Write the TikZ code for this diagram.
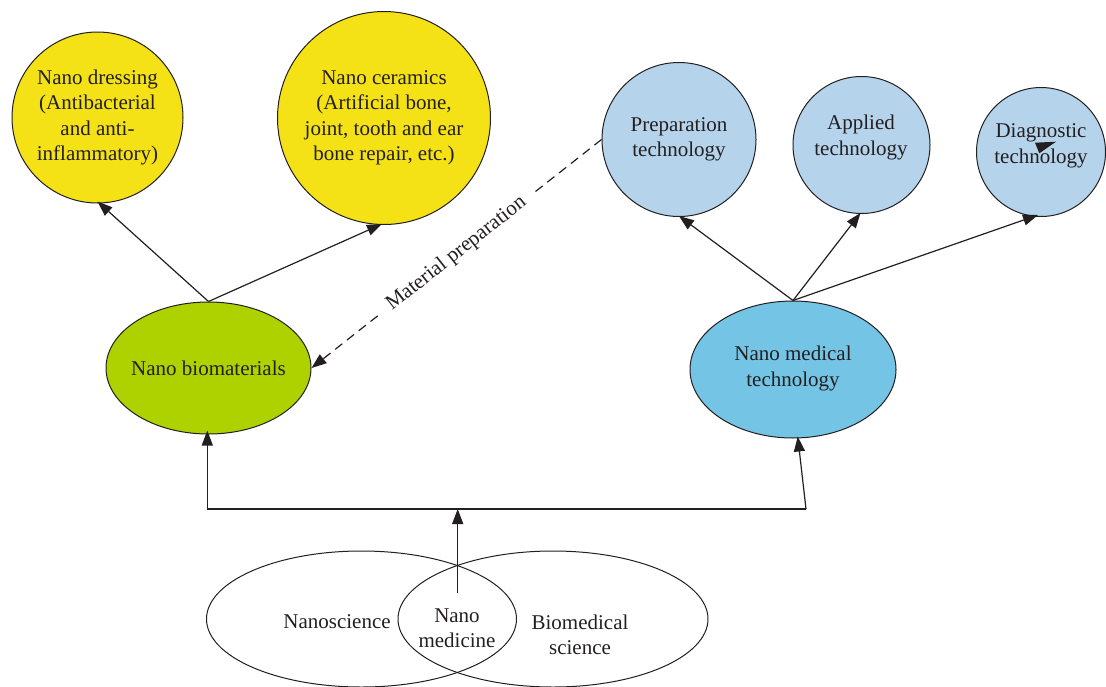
\documentclass[tikz,border=0pt]{standalone}
\usepackage{fontspec}
\setmainfont{Liberation Serif}
\usetikzlibrary{arrows.meta,shapes.geometric}
\definecolor{yel}{RGB}{244,226,22}
\definecolor{paleblue}{RGB}{181,212,236}
\definecolor{skyblue}{RGB}{116,196,230}
\definecolor{lime}{RGB}{174,210,0}
\definecolor{ink}{RGB}{35,31,32}

\begin{document}
\begin{tikzpicture}[x=1pt,y=-1pt,
  bubble/.style={circle,draw=ink,line width=1pt,inner sep=0pt},
  oval/.style={ellipse,draw=ink,line width=1pt,inner sep=0pt},
  txt/.style={text=ink,align=center,font=\fontsize{21}{25.5}\selectfont,inner sep=0pt},
  link/.style={draw=ink,line width=1.2pt,-{Triangle[length=15pt,width=11pt]}},
]
\useasboundingbox (0,0) rectangle (1106,686);

% upper tier: applications
\node[bubble,fill=yel,minimum size=171pt,txt] (dress) at (97.5,117.5)
  {Nano dressing\\(Antibacterial\\and anti-\\inflammatory)};
\node[bubble,fill=yel,minimum size=213pt,txt] (ceram) at (384,118)
  {Nano ceramics\\(Artificial bone,\\joint, tooth and ear\\bone repair, etc.)};
\node[bubble,fill=paleblue,minimum size=154pt,txt] (prep) at (679,139.5)
  {Preparation\\technology};
\node[bubble,fill=paleblue,minimum size=137pt] (appl) at (861.5,145) {};
\node[txt] (appltext) at (861,137.5) {Applied\\technology};
\node[bubble,fill=paleblue,minimum size=129pt] (diag) at (1041,152) {};
\node[txt] (diagtext) at (1041,146) {Diagnostic\\technology};
\fill[ink] (1035,142.7) -- (1056,141.7) -- (1039.3,153.3) -- cycle;

% middle tier
\node[oval,fill=lime,minimum width=205pt,minimum height=132pt] (bio) at (208.5,368) {};
\node[txt] (biotext) at (208.5,368) {Nano biomaterials};
\node[oval,fill=skyblue,minimum width=206pt,minimum height=137pt] (med) at (793,369.5) {};
\node[txt] (medtext) at (793,368.5) {Nano medical\\technology};

% bottom: overlapping disciplines
\node[oval,minimum width=310pt,minimum height=136pt] (nanosci) at (361.5,619) {};
\node[oval,minimum width=310pt,minimum height=136pt] (biosci) at (553,619) {};
\node[txt] (nanosci-t) at (337,622) {Nanoscience};
\node[txt] (nanomed-t) at (457,628) {Nano\\medicine};
\node[txt] (biosci-t) at (580,635) {Biomedical\\science};

% connectors
\draw[link] (bio.north) -- ([yshift=2pt]dress.south);
\draw[link] (bio.north) -- ([xshift=-2pt,yshift=1pt]ceram.south);
\draw[link] (med.north) -- ([yshift=1pt]prep.south);
\draw[link] (med.north) -- ([xshift=-1pt,yshift=1pt]appl.south);
\draw[link] (med.north) -- ([xshift=-3pt,yshift=2pt]diag.south);

\draw[link,dash pattern=on 9pt off 6pt] (prep.west) --
  node[sloped,fill=white,txt,inner xsep=9pt,inner ysep=2pt] (matlabel) {Material preparation}
  (bio.east);

\coordinate (venntop) at (457.7,592.7);
\coordinate (junction) at (457.7,509);
\coordinate (leftcorner) at (207.3,509);
\coordinate (rightcorner) at (806,509);
\draw[link] (venntop) -- (junction);
\draw[draw=ink,line width=1.2pt] (leftcorner) -- (rightcorner);
\draw[link] (leftcorner) -- ([xshift=-1.2pt,yshift=4pt]bio.south);
\draw[link] (rightcorner) -- ([xshift=4.7pt,yshift=2pt]med.south);
\end{tikzpicture}
\end{document}
